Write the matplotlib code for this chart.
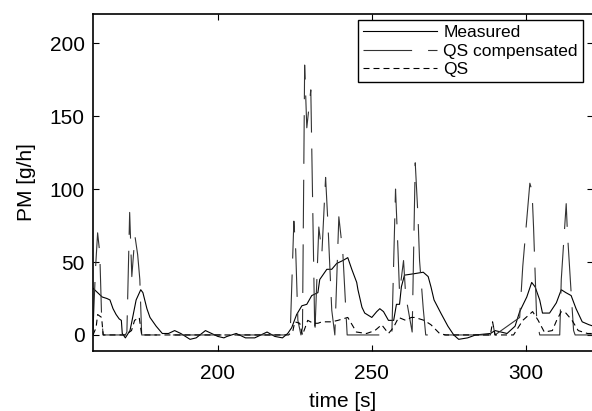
import matplotlib
matplotlib.use('Agg')
import matplotlib.pyplot as plt

plt.rcParams['font.family'] = ['Liberation Sans', 'DejaVu Sans']
plt.rcParams['lines.scale_dashes'] = False

# measured PM signal (time [s], PM [g/h])
t_meas = [159.5, 160.5, 162.5, 164, 165, 166, 167, 168, 168.7, 169, 170, 171.5, 172, 173.5, 175, 175.7,
          177, 178, 180, 182, 184, 186, 188, 191, 193, 196, 198, 200, 202, 203, 206, 208, 209, 212,
          214, 216, 218.5, 221, 222.7, 224, 225.6, 227.3, 228.9, 230.5, 232.5, 233.1, 235.4, 237,
          238.6, 240.6, 242.2, 243.5, 245.1, 245.5, 246.8, 247.7, 250, 251.6, 252.6, 253.8, 255.4,
          257.1, 258, 259, 259.6, 260.6, 263.8, 266.7, 268.3, 269.2, 270.2, 272.4, 274.7, 276.6,
          278.2, 281.1, 283.7, 288.5, 290, 293.9, 296.5, 298, 300.3, 301.9, 303, 304.5, 305.4,
          307.7, 309.9, 311.5, 313, 314.7, 316.3, 318.3, 320.5, 322]
pm_meas = [32, 30, 26, 25, 24, 18, 14, 11, 10, 1, -2, 3, 8, 24, 31, 29,
           18, 12, 6, 1, 1, 3, 1, -3, -2, 3, 1, -1, -2, -1, 1, -1, -2, -2,
           0, 2, -1, -2, 1, 5, 14, 20, 21, 27, 29, 38, 45, 45,
           49, 51, 53, 45, 36, 31, 19, 15, 12, 16, 18, 16, 10,
           10, 21, 21, 33, 41, 42, 43, 40, 33, 24, 15, 6, 0,
           -3, -2, 0, 1, 3, 1, 6, 16, 26, 36, 33, 24, 15,
           15, 22, 31, 29, 27, 18, 9, 7, 6]

# quasi-stationary model, compensated
t_comp = [159.5, 160.3, 161, 161.7, 162.3, 162.8, 170, 170.5, 171.4, 172.1, 173.1, 174, 174.7, 175.3,
          223.5, 224.7, 225.3, 226, 227, 227.5, 228.2, 228.9, 230.2, 231.5, 232.8, 233.8, 235,
          235.7, 237, 238, 239.3, 240.6, 242, 256.5, 257.7, 258.5, 259, 260.3, 261, 263.1,
          264.1, 265, 265.5, 266.7, 267.5, 288.5, 289.2, 290, 298, 299, 301.3, 302, 302.5,
          303.5, 304.5, 311, 311.5, 313.1, 313.5, 314.7, 315.5, 316, 322]
pm_comp = [3, 45, 70, 56, 12, 0, 0, 2, 84, 40, 68, 55, 38, 0,
           0, 78, 58, 10, 0, 5, 185, 142, 168, 0, 74, 56, 108,
           79, 17, 0, 81, 56, 0, 0, 100, 58, 29, 51, 27, 2,
           118, 81, 51, 18, 0, 0, 9, 0, 12, 47, 104, 99, 74,
           12, 0, 0, 38, 90, 70, 29, 3, 0, 0]

# quasi-stationary model
t_qs = [159.5, 160.5, 161, 162.3, 162.8, 170, 172, 173, 174.5, 175.3, 223, 224.4, 225, 226.6, 227.5,
        229.2, 231, 232.5, 233.8, 237, 239, 242.2, 245, 248.3, 251, 253.2, 255.4, 257, 258.7, 261,
        262.8, 264, 267, 269.2, 272, 274, 288.5, 289.2, 290, 296, 299, 302.2, 304, 306, 308.6,
        310, 311.5, 313, 315, 317, 320, 322]
pm_qs = [0, 5, 14, 12, 0, 0, 3, 10, 12, 0, 0, 3, 9, 8, 0,
         10, 8, 8, 9, 9, 10, 12, 2, 1, 3, 7, 1, 5, 12, 10,
         12, 12, 10, 7, 1, 0, 0, 9, 0, 0, 10, 16, 10, 2, 3,
         10, 16, 15, 10, 3, 1, 1]

fig = plt.figure(figsize=(5.92, 4.11), dpi=100)
ax = fig.add_axes([93 / 592, 60 / 411, 500 / 592, 337 / 411])

ax.plot(t_meas, pm_meas, color='black', lw=0.8, label='Measured')
ax.plot(t_comp, pm_comp, color='0.2', lw=0.8, dashes=(35, 11.5), label='QS compensated')
ax.plot(t_qs, pm_qs, color='black', lw=0.8, dashes=(4.3, 2.9), label='QS')

ax.set_xlim(159.5, 321.8)
ax.set_ylim(-11, 220)
ax.set_xticks([200, 250, 300])
ax.set_yticks([0, 50, 100, 150, 200])
ax.tick_params(direction='in', length=4, width=0.8, top=True, right=True, labelsize=15)
ax.tick_params(axis='x', pad=9)
ax.tick_params(axis='y', pad=6)
for s in ax.spines.values():
    s.set_linewidth(1.2)

ax.set_xlabel('time [s]', fontsize=15, labelpad=7)
ax.set_ylabel('PM [g/h]', fontsize=15, labelpad=10)

leg = ax.legend(loc='upper right', bbox_to_anchor=(0.98, 0.982), borderaxespad=0,
                fontsize=12.5, handlelength=4.25, handletextpad=0.35, labelspacing=0.18,
                borderpad=0.3, fancybox=False, framealpha=1, edgecolor='black')
leg.get_frame().set_linewidth(1.0)

fig.savefig('out.png', dpi=100)
